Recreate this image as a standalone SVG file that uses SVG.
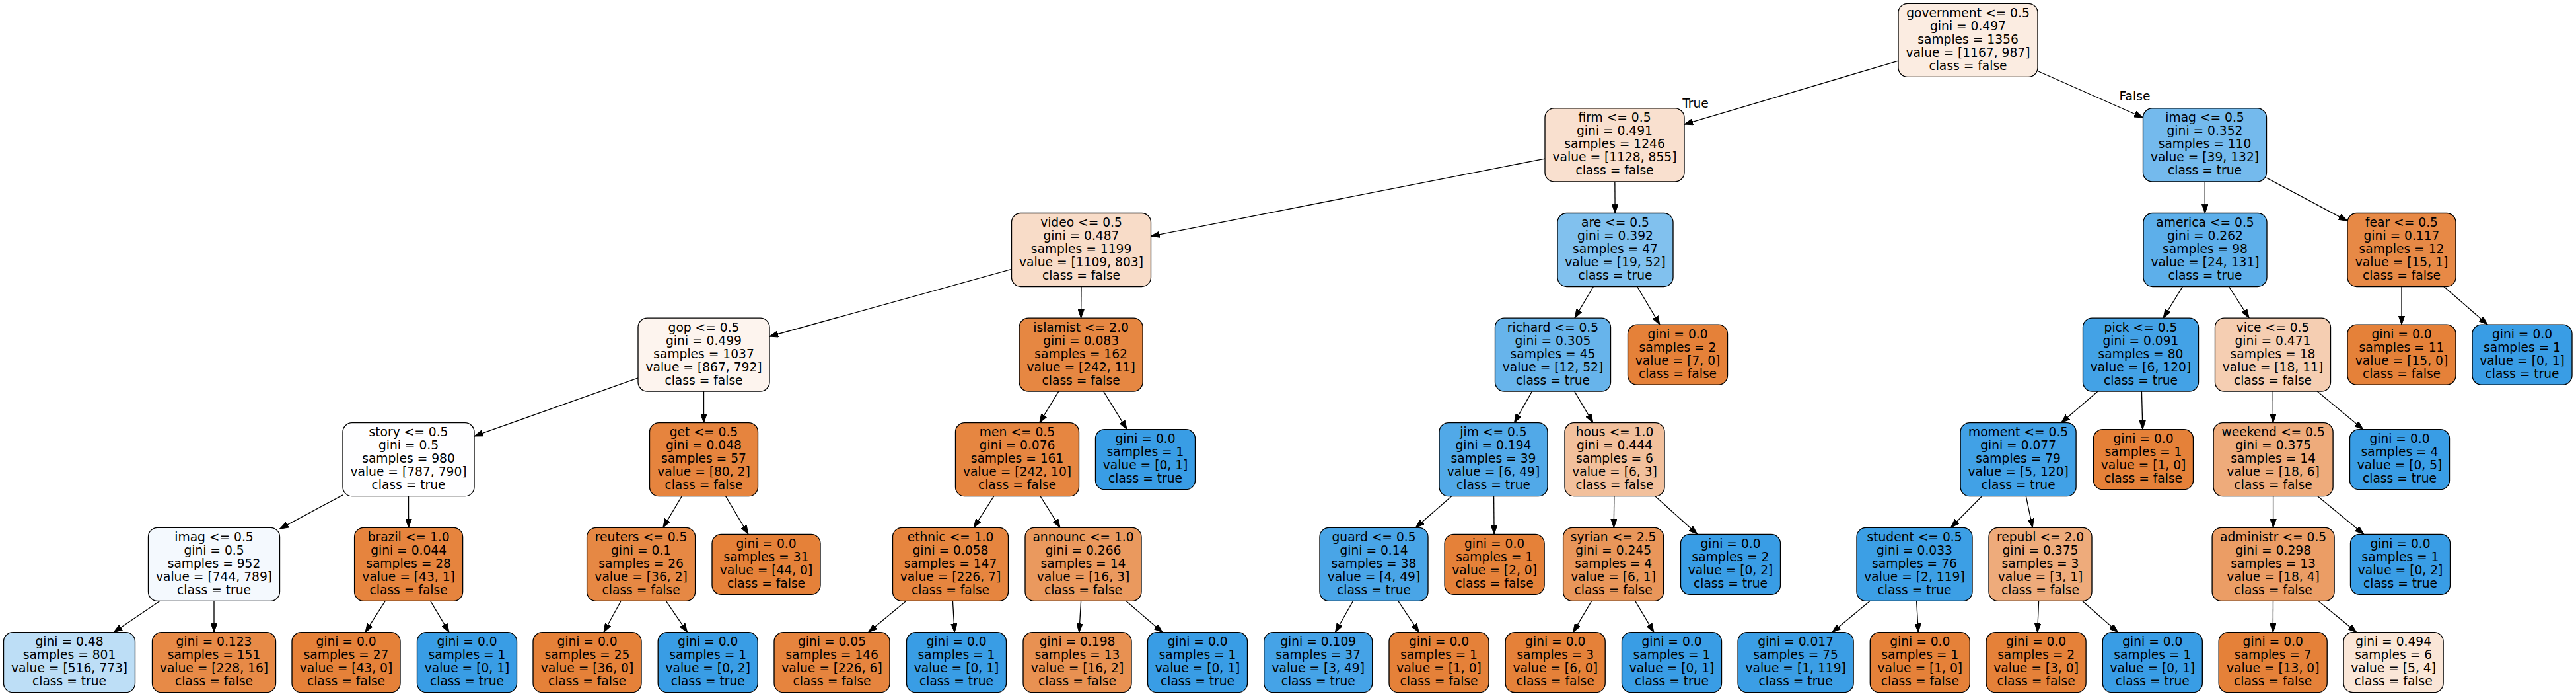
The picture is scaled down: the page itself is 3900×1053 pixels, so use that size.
<svg xmlns="http://www.w3.org/2000/svg" width="3900" height="1053" viewBox="0 0 3900 1053">
<defs>
<style>
.node rect{stroke:#000;stroke-width:1.33}
text{font-family:"DejaVu Sans","Liberation Sans",sans-serif;font-size:18.67px;text-anchor:middle;fill:#000}
#edges line{stroke:#000;stroke-width:1.33;marker-end:url(#arr)}
.o{fill:#e58139}.b{fill:#399de5}
</style>
<marker id="arr" markerUnits="userSpaceOnUse" viewBox="0 -5 14 10" refX="13.33" refY="0" markerWidth="14" markerHeight="10" orient="auto">
<path d="M0,-4.67 L13.33,0 L0,4.67 z" fill="#000" stroke="#000" stroke-width="1"/>
</marker>
</defs>
<rect width="3900" height="1053" fill="#fff"/>
<g id="edges">
<line x1="2874" y1="92.1" x2="2550" y2="188.1"/>
<line x1="3085" y1="107.5" x2="3244.5" y2="178"/>
<line x1="2339" y1="240.1" x2="1742.5" y2="357.3"/>
<line x1="2444.85" y1="274.9" x2="2445.15" y2="322.5"/>
<line x1="3338.2" y1="274.9" x2="3338.3" y2="322.5"/>
<line x1="3431.5" y1="269.2" x2="3554" y2="334.4"/>
<line x1="1531.5" y1="407.3" x2="1165" y2="509"/>
<line x1="1637" y1="433.5" x2="1636.6" y2="481.1"/>
<line x1="2412.4" y1="433.5" x2="2384.1" y2="481.1"/>
<line x1="2478.6" y1="433.5" x2="2512.9" y2="491.1"/>
<line x1="3304.4" y1="433.5" x2="3275.1" y2="481.1"/>
<line x1="3374.4" y1="433.5" x2="3405.1" y2="481.1"/>
<line x1="3636" y1="433.5" x2="3636" y2="491.1"/>
<line x1="3699.9" y1="433.5" x2="3766.1" y2="491.1"/>
<line x1="966" y1="571.9" x2="718" y2="659.9"/>
<line x1="1065.5" y1="592.1" x2="1065.5" y2="639.7"/>
<line x1="1602.8" y1="592.1" x2="1573.8" y2="639.7"/>
<line x1="1670.7" y1="592.1" x2="1706.1" y2="649.7"/>
<line x1="2319.5" y1="592.1" x2="2292.5" y2="639.7"/>
<line x1="2383.7" y1="592.1" x2="2411.8" y2="639.7"/>
<line x1="3176.1" y1="592.1" x2="3120.5" y2="639.7"/>
<line x1="3242.4" y1="592.1" x2="3243.9" y2="649.7"/>
<line x1="3441.2" y1="592.1" x2="3441.4" y2="639.7"/>
<line x1="3508.2" y1="592.1" x2="3577.9" y2="649.7"/>
<line x1="519" y1="748.8" x2="423.5" y2="800.2"/>
<line x1="618.5" y1="750.7" x2="618.6" y2="798.3"/>
<line x1="1032.3" y1="750.7" x2="1003.8" y2="798.3"/>
<line x1="1098.6" y1="750.7" x2="1132.9" y2="808.3"/>
<line x1="1504.7" y1="750.7" x2="1474.3" y2="798.3"/>
<line x1="1575" y1="750.7" x2="1605" y2="798.3"/>
<line x1="2197.7" y1="750.7" x2="2143.3" y2="798.3"/>
<line x1="2261.6" y1="750.7" x2="2262.1" y2="808.3"/>
<line x1="2443.8" y1="750.7" x2="2443.3" y2="798.3"/>
<line x1="2505.9" y1="750.7" x2="2569.7" y2="808.3"/>
<line x1="3000.6" y1="750.7" x2="2953.5" y2="798.3"/>
<line x1="3067.3" y1="750.7" x2="3077.3" y2="798.3"/>
<line x1="3441.6" y1="750.7" x2="3441.6" y2="798.3"/>
<line x1="3508.9" y1="750.7" x2="3578.8" y2="808.3"/>
<line x1="242.1" y1="909.3" x2="172.1" y2="956.7"/>
<line x1="324" y1="909.3" x2="324" y2="956.7"/>
<line x1="583.2" y1="909.3" x2="553" y2="956.7"/>
<line x1="651.7" y1="909.3" x2="679.9" y2="956.7"/>
<line x1="940.1" y1="909.3" x2="914" y2="956.7"/>
<line x1="1008.4" y1="909.3" x2="1040.7" y2="956.7"/>
<line x1="1371.9" y1="909.3" x2="1314.5" y2="956.7"/>
<line x1="1442.4" y1="909.3" x2="1445.2" y2="956.7"/>
<line x1="1636.6" y1="909.3" x2="1633.8" y2="956.7"/>
<line x1="1704.7" y1="909.3" x2="1760" y2="956.7"/>
<line x1="2048.5" y1="909.3" x2="2021.5" y2="956.7"/>
<line x1="2116.8" y1="909.3" x2="2148.3" y2="956.7"/>
<line x1="2409.7" y1="909.3" x2="2381.6" y2="956.7"/>
<line x1="2475.7" y1="909.3" x2="2503.9" y2="956.7"/>
<line x1="2831.2" y1="909.3" x2="2773.8" y2="956.7"/>
<line x1="2901.6" y1="909.3" x2="2904.3" y2="956.7"/>
<line x1="3086.6" y1="909.3" x2="3084.6" y2="956.7"/>
<line x1="3152.5" y1="909.3" x2="3206.7" y2="956.7"/>
<line x1="3441.5" y1="909.3" x2="3441.3" y2="956.7"/>
<line x1="3509.7" y1="909.3" x2="3567.8" y2="956.7"/>
<text x="2567" y="163.3">True</text>
<text x="3232" y="151.7">False</text>
</g>

<g id="n0" class="node" transform="translate(2979.5,60.8)"><rect x="-105.5" y="-55.5" width="211" height="111" rx="14" fill="#fbece1"/><text y="-35"><tspan x="0">government &lt;= 0.5</tspan><tspan x="0" dy="20">gini = 0.497</tspan><tspan x="0" dy="20">samples = 1356</tspan><tspan x="0" dy="20">value = [1167, 987]</tspan><tspan x="0" dy="20">class = false</tspan></text></g>

<g id="n1" class="node" transform="translate(2444.5,219.4)"><rect x="-105.5" y="-55.5" width="211" height="111" rx="14" fill="#f9e0cf"/><text y="-35"><tspan x="0">firm &lt;= 0.5</tspan><tspan x="0" dy="20">gini = 0.491</tspan><tspan x="0" dy="20">samples = 1246</tspan><tspan x="0" dy="20">value = [1128, 855]</tspan><tspan x="0" dy="20">class = false</tspan></text></g>
<g id="n2" class="node" transform="translate(3338,219.4)"><rect x="-93.5" y="-55.5" width="187" height="111" rx="14" fill="#74baed"/><text y="-35"><tspan x="0">imag &lt;= 0.5</tspan><tspan x="0" dy="20">gini = 0.352</tspan><tspan x="0" dy="20">samples = 110</tspan><tspan x="0" dy="20">value = [39, 132]</tspan><tspan x="0" dy="20">class = true</tspan></text></g>

<g id="n3" class="node" transform="translate(1637,378)"><rect x="-105.5" y="-55.5" width="211" height="111" rx="14" fill="#f8dcc8"/><text y="-35"><tspan x="0">video &lt;= 0.5</tspan><tspan x="0" dy="20">gini = 0.487</tspan><tspan x="0" dy="20">samples = 1199</tspan><tspan x="0" dy="20">value = [1109, 803]</tspan><tspan x="0" dy="20">class = false</tspan></text></g>
<g id="n4" class="node" transform="translate(2445.5,378)"><rect x="-87.5" y="-55.5" width="175" height="111" rx="14" fill="#81c1ee"/><text y="-35"><tspan x="0">are &lt;= 0.5</tspan><tspan x="0" dy="20">gini = 0.392</tspan><tspan x="0" dy="20">samples = 47</tspan><tspan x="0" dy="20">value = [19, 52]</tspan><tspan x="0" dy="20">class = true</tspan></text></g>
<g id="n5" class="node" transform="translate(3338.5,378)"><rect x="-93.5" y="-55.5" width="187" height="111" rx="14" fill="#5dafea"/><text y="-35"><tspan x="0">america &lt;= 0.5</tspan><tspan x="0" dy="20">gini = 0.262</tspan><tspan x="0" dy="20">samples = 98</tspan><tspan x="0" dy="20">value = [24, 131]</tspan><tspan x="0" dy="20">class = true</tspan></text></g>
<g id="n6" class="node" transform="translate(3636,378)"><rect x="-82" y="-55.5" width="164" height="111" rx="14" fill="#e78946"/><text y="-35"><tspan x="0">fear &lt;= 0.5</tspan><tspan x="0" dy="20">gini = 0.117</tspan><tspan x="0" dy="20">samples = 12</tspan><tspan x="0" dy="20">value = [15, 1]</tspan><tspan x="0" dy="20">class = false</tspan></text></g>

<g id="n7" class="node" transform="translate(1065.5,536.6)"><rect x="-99.5" y="-55.5" width="199" height="111" rx="14" fill="#fdf4ee"/><text y="-35"><tspan x="0">gop &lt;= 0.5</tspan><tspan x="0" dy="20">gini = 0.499</tspan><tspan x="0" dy="20">samples = 1037</tspan><tspan x="0" dy="20">value = [867, 792]</tspan><tspan x="0" dy="20">class = false</tspan></text></g>
<g id="n8" class="node" transform="translate(1636.6,536.6)"><rect x="-93.5" y="-55.5" width="187" height="111" rx="14" fill="#e68742"/><text y="-35"><tspan x="0">islamist &lt;= 2.0</tspan><tspan x="0" dy="20">gini = 0.083</tspan><tspan x="0" dy="20">samples = 162</tspan><tspan x="0" dy="20">value = [242, 11]</tspan><tspan x="0" dy="20">class = false</tspan></text></g>
<g id="n9" class="node" transform="translate(2351,536.6)"><rect x="-87.5" y="-55.5" width="175" height="111" rx="14" fill="#67b4eb"/><text y="-35"><tspan x="0">richard &lt;= 0.5</tspan><tspan x="0" dy="20">gini = 0.305</tspan><tspan x="0" dy="20">samples = 45</tspan><tspan x="0" dy="20">value = [12, 52]</tspan><tspan x="0" dy="20">class = true</tspan></text></g>
<g id="n10" class="node" transform="translate(2540,536.6)"><rect class="o" x="-75.5" y="-45.5" width="151" height="91" rx="14"/><text y="-25"><tspan x="0">gini = 0.0</tspan><tspan x="0" dy="20">samples = 2</tspan><tspan x="0" dy="20">value = [7, 0]</tspan><tspan x="0" dy="20">class = false</tspan></text></g>
<g id="n11" class="node" transform="translate(3241,536.6)"><rect x="-87.5" y="-55.5" width="175" height="111" rx="14" fill="#43a2e6"/><text y="-35"><tspan x="0">pick &lt;= 0.5</tspan><tspan x="0" dy="20">gini = 0.091</tspan><tspan x="0" dy="20">samples = 80</tspan><tspan x="0" dy="20">value = [6, 120]</tspan><tspan x="0" dy="20">class = true</tspan></text></g>
<g id="n12" class="node" transform="translate(3441,536.6)"><rect x="-87.5" y="-55.5" width="175" height="111" rx="14" fill="#f5ceb2"/><text y="-35"><tspan x="0">vice &lt;= 0.5</tspan><tspan x="0" dy="20">gini = 0.471</tspan><tspan x="0" dy="20">samples = 18</tspan><tspan x="0" dy="20">value = [18, 11]</tspan><tspan x="0" dy="20">class = false</tspan></text></g>
<g id="n13" class="node" transform="translate(3636,536.6)"><rect class="o" x="-82" y="-45.5" width="164" height="91" rx="14"/><text y="-25"><tspan x="0">gini = 0.0</tspan><tspan x="0" dy="20">samples = 11</tspan><tspan x="0" dy="20">value = [15, 0]</tspan><tspan x="0" dy="20">class = false</tspan></text></g>
<g id="n14" class="node" transform="translate(3818.5,536.6)"><rect class="b" x="-75.5" y="-45.5" width="151" height="91" rx="14"/><text y="-25"><tspan x="0">gini = 0.0</tspan><tspan x="0" dy="20">samples = 1</tspan><tspan x="0" dy="20">value = [0, 1]</tspan><tspan x="0" dy="20">class = true</tspan></text></g>

<g id="n15" class="node" transform="translate(618.5,695.2)"><rect x="-99.5" y="-55.5" width="199" height="111" rx="14" fill="#fefeff"/><text y="-35"><tspan x="0">story &lt;= 0.5</tspan><tspan x="0" dy="20">gini = 0.5</tspan><tspan x="0" dy="20">samples = 980</tspan><tspan x="0" dy="20">value = [787, 790]</tspan><tspan x="0" dy="20">class = true</tspan></text></g>
<g id="n16" class="node" transform="translate(1065.5,695.2)"><rect x="-82" y="-55.5" width="164" height="111" rx="14" fill="#e6843e"/><text y="-35"><tspan x="0">get &lt;= 0.5</tspan><tspan x="0" dy="20">gini = 0.048</tspan><tspan x="0" dy="20">samples = 57</tspan><tspan x="0" dy="20">value = [80, 2]</tspan><tspan x="0" dy="20">class = false</tspan></text></g>
<g id="n17" class="node" transform="translate(1540,695.2)"><rect x="-93.5" y="-55.5" width="187" height="111" rx="14" fill="#e68641"/><text y="-35"><tspan x="0">men &lt;= 0.5</tspan><tspan x="0" dy="20">gini = 0.076</tspan><tspan x="0" dy="20">samples = 161</tspan><tspan x="0" dy="20">value = [242, 10]</tspan><tspan x="0" dy="20">class = false</tspan></text></g>
<g id="n18" class="node" transform="translate(1734,695.2)"><rect class="b" x="-75.5" y="-45.5" width="151" height="91" rx="14"/><text y="-25"><tspan x="0">gini = 0.0</tspan><tspan x="0" dy="20">samples = 1</tspan><tspan x="0" dy="20">value = [0, 1]</tspan><tspan x="0" dy="20">class = true</tspan></text></g>
<g id="n19" class="node" transform="translate(2261,695.2)"><rect x="-82" y="-55.5" width="164" height="111" rx="14" fill="#51a9e8"/><text y="-35"><tspan x="0">jim &lt;= 0.5</tspan><tspan x="0" dy="20">gini = 0.194</tspan><tspan x="0" dy="20">samples = 39</tspan><tspan x="0" dy="20">value = [6, 49]</tspan><tspan x="0" dy="20">class = true</tspan></text></g>
<g id="n20" class="node" transform="translate(2444.5,695.2)"><rect x="-75.5" y="-55.5" width="151" height="111" rx="14" fill="#f2c09c"/><text y="-35"><tspan x="0">hous &lt;= 1.0</tspan><tspan x="0" dy="20">gini = 0.444</tspan><tspan x="0" dy="20">samples = 6</tspan><tspan x="0" dy="20">value = [6, 3]</tspan><tspan x="0" dy="20">class = false</tspan></text></g>
<g id="n21" class="node" transform="translate(3055.6,695.2)"><rect x="-87.5" y="-55.5" width="175" height="111" rx="14" fill="#41a1e6"/><text y="-35"><tspan x="0">moment &lt;= 0.5</tspan><tspan x="0" dy="20">gini = 0.077</tspan><tspan x="0" dy="20">samples = 79</tspan><tspan x="0" dy="20">value = [5, 120]</tspan><tspan x="0" dy="20">class = true</tspan></text></g>
<g id="n22" class="node" transform="translate(3245,695.2)"><rect class="o" x="-75.5" y="-45.5" width="151" height="91" rx="14"/><text y="-25"><tspan x="0">gini = 0.0</tspan><tspan x="0" dy="20">samples = 1</tspan><tspan x="0" dy="20">value = [1, 0]</tspan><tspan x="0" dy="20">class = false</tspan></text></g>
<g id="n23" class="node" transform="translate(3441.6,695.2)"><rect x="-90.5" y="-55.5" width="181" height="111" rx="14" fill="#eeab7b"/><text y="-35"><tspan x="0">weekend &lt;= 0.5</tspan><tspan x="0" dy="20">gini = 0.375</tspan><tspan x="0" dy="20">samples = 14</tspan><tspan x="0" dy="20">value = [18, 6]</tspan><tspan x="0" dy="20">class = false</tspan></text></g>
<g id="n24" class="node" transform="translate(3633,695.2)"><rect class="b" x="-75.5" y="-45.5" width="151" height="91" rx="14"/><text y="-25"><tspan x="0">gini = 0.0</tspan><tspan x="0" dy="20">samples = 4</tspan><tspan x="0" dy="20">value = [0, 5]</tspan><tspan x="0" dy="20">class = true</tspan></text></g>

<g id="n25" class="node" transform="translate(324,853.8)"><rect x="-99.5" y="-55.5" width="199" height="111" rx="14" fill="#f4f9fe"/><text y="-35"><tspan x="0">imag &lt;= 0.5</tspan><tspan x="0" dy="20">gini = 0.5</tspan><tspan x="0" dy="20">samples = 952</tspan><tspan x="0" dy="20">value = [744, 789]</tspan><tspan x="0" dy="20">class = true</tspan></text></g>
<g id="n26" class="node" transform="translate(618.6,853.8)"><rect x="-82" y="-55.5" width="164" height="111" rx="14" fill="#e6843e"/><text y="-35"><tspan x="0">brazil &lt;= 1.0</tspan><tspan x="0" dy="20">gini = 0.044</tspan><tspan x="0" dy="20">samples = 28</tspan><tspan x="0" dy="20">value = [43, 1]</tspan><tspan x="0" dy="20">class = false</tspan></text></g>
<g id="n27" class="node" transform="translate(970.6,853.8)"><rect x="-82" y="-55.5" width="164" height="111" rx="14" fill="#e68844"/><text y="-35"><tspan x="0">reuters &lt;= 0.5</tspan><tspan x="0" dy="20">gini = 0.1</tspan><tspan x="0" dy="20">samples = 26</tspan><tspan x="0" dy="20">value = [36, 2]</tspan><tspan x="0" dy="20">class = false</tspan></text></g>
<g id="n28" class="node" transform="translate(1160,853.8)"><rect class="o" x="-82" y="-45.5" width="164" height="91" rx="14"/><text y="-25"><tspan x="0">gini = 0.0</tspan><tspan x="0" dy="20">samples = 31</tspan><tspan x="0" dy="20">value = [44, 0]</tspan><tspan x="0" dy="20">class = false</tspan></text></g>
<g id="n29" class="node" transform="translate(1439,853.8)"><rect x="-87.5" y="-55.5" width="175" height="111" rx="14" fill="#e6853f"/><text y="-35"><tspan x="0">ethnic &lt;= 1.0</tspan><tspan x="0" dy="20">gini = 0.058</tspan><tspan x="0" dy="20">samples = 147</tspan><tspan x="0" dy="20">value = [226, 7]</tspan><tspan x="0" dy="20">class = false</tspan></text></g>
<g id="n30" class="node" transform="translate(1640,853.8)"><rect x="-88" y="-55.5" width="176" height="111" rx="14" fill="#ea995e"/><text y="-35"><tspan x="0">announc &lt;= 1.0</tspan><tspan x="0" dy="20">gini = 0.266</tspan><tspan x="0" dy="20">samples = 14</tspan><tspan x="0" dy="20">value = [16, 3]</tspan><tspan x="0" dy="20">class = false</tspan></text></g>
<g id="n31" class="node" transform="translate(2080,853.8)"><rect x="-82" y="-55.5" width="164" height="111" rx="14" fill="#49a5e7"/><text y="-35"><tspan x="0">guard &lt;= 0.5</tspan><tspan x="0" dy="20">gini = 0.14</tspan><tspan x="0" dy="20">samples = 38</tspan><tspan x="0" dy="20">value = [4, 49]</tspan><tspan x="0" dy="20">class = true</tspan></text></g>
<g id="n32" class="node" transform="translate(2262.6,853.8)"><rect class="o" x="-75.5" y="-45.5" width="151" height="91" rx="14"/><text y="-25"><tspan x="0">gini = 0.0</tspan><tspan x="0" dy="20">samples = 1</tspan><tspan x="0" dy="20">value = [2, 0]</tspan><tspan x="0" dy="20">class = false</tspan></text></g>
<g id="n33" class="node" transform="translate(2442.6,853.8)"><rect x="-76" y="-55.5" width="152" height="111" rx="14" fill="#e9965a"/><text y="-35"><tspan x="0">syrian &lt;= 2.5</tspan><tspan x="0" dy="20">gini = 0.245</tspan><tspan x="0" dy="20">samples = 4</tspan><tspan x="0" dy="20">value = [6, 1]</tspan><tspan x="0" dy="20">class = false</tspan></text></g>
<g id="n34" class="node" transform="translate(2620,853.8)"><rect class="b" x="-75.5" y="-45.5" width="151" height="91" rx="14"/><text y="-25"><tspan x="0">gini = 0.0</tspan><tspan x="0" dy="20">samples = 2</tspan><tspan x="0" dy="20">value = [0, 2]</tspan><tspan x="0" dy="20">class = true</tspan></text></g>
<g id="n35" class="node" transform="translate(2898.5,853.8)"><rect x="-87.5" y="-55.5" width="175" height="111" rx="14" fill="#3c9fe5"/><text y="-35"><tspan x="0">student &lt;= 0.5</tspan><tspan x="0" dy="20">gini = 0.033</tspan><tspan x="0" dy="20">samples = 76</tspan><tspan x="0" dy="20">value = [2, 119]</tspan><tspan x="0" dy="20">class = true</tspan></text></g>
<g id="n36" class="node" transform="translate(3089,853.8)"><rect x="-78" y="-55.5" width="156" height="111" rx="14" fill="#eeab7b"/><text y="-35"><tspan x="0">republ &lt;= 2.0</tspan><tspan x="0" dy="20">gini = 0.375</tspan><tspan x="0" dy="20">samples = 3</tspan><tspan x="0" dy="20">value = [3, 1]</tspan><tspan x="0" dy="20">class = false</tspan></text></g>
<g id="n37" class="node" transform="translate(3441.6,853.8)"><rect x="-92.5" y="-55.5" width="185" height="111" rx="14" fill="#eb9d65"/><text y="-35"><tspan x="0">administr &lt;= 0.5</tspan><tspan x="0" dy="20">gini = 0.298</tspan><tspan x="0" dy="20">samples = 13</tspan><tspan x="0" dy="20">value = [18, 4]</tspan><tspan x="0" dy="20">class = false</tspan></text></g>
<g id="n38" class="node" transform="translate(3634,853.8)"><rect class="b" x="-75.5" y="-45.5" width="151" height="91" rx="14"/><text y="-25"><tspan x="0">gini = 0.0</tspan><tspan x="0" dy="20">samples = 1</tspan><tspan x="0" dy="20">value = [0, 2]</tspan><tspan x="0" dy="20">class = true</tspan></text></g>

<g id="n39" class="node" transform="translate(105,1002.2)"><rect x="-99.5" y="-45.5" width="199" height="91" rx="14" fill="#bddef6"/><text y="-25"><tspan x="0">gini = 0.48</tspan><tspan x="0" dy="20">samples = 801</tspan><tspan x="0" dy="20">value = [516, 773]</tspan><tspan x="0" dy="20">class = true</tspan></text></g>
<g id="n40" class="node" transform="translate(324,1002.2)"><rect x="-93.5" y="-45.5" width="187" height="91" rx="14" fill="#e78a47"/><text y="-25"><tspan x="0">gini = 0.123</tspan><tspan x="0" dy="20">samples = 151</tspan><tspan x="0" dy="20">value = [228, 16]</tspan><tspan x="0" dy="20">class = false</tspan></text></g>
<g id="n41" class="node" transform="translate(524,1002.2)"><rect class="o" x="-82" y="-45.5" width="164" height="91" rx="14"/><text y="-25"><tspan x="0">gini = 0.0</tspan><tspan x="0" dy="20">samples = 27</tspan><tspan x="0" dy="20">value = [43, 0]</tspan><tspan x="0" dy="20">class = false</tspan></text></g>
<g id="n42" class="node" transform="translate(707,1002.2)"><rect class="b" x="-75.5" y="-45.5" width="151" height="91" rx="14"/><text y="-25"><tspan x="0">gini = 0.0</tspan><tspan x="0" dy="20">samples = 1</tspan><tspan x="0" dy="20">value = [0, 1]</tspan><tspan x="0" dy="20">class = true</tspan></text></g>
<g id="n43" class="node" transform="translate(889,1002.2)"><rect class="o" x="-82" y="-45.5" width="164" height="91" rx="14"/><text y="-25"><tspan x="0">gini = 0.0</tspan><tspan x="0" dy="20">samples = 25</tspan><tspan x="0" dy="20">value = [36, 0]</tspan><tspan x="0" dy="20">class = false</tspan></text></g>
<g id="n44" class="node" transform="translate(1071.7,1002.2)"><rect class="b" x="-75.5" y="-45.5" width="151" height="91" rx="14"/><text y="-25"><tspan x="0">gini = 0.0</tspan><tspan x="0" dy="20">samples = 1</tspan><tspan x="0" dy="20">value = [0, 2]</tspan><tspan x="0" dy="20">class = true</tspan></text></g>
<g id="n45" class="node" transform="translate(1259.5,1002.2)"><rect x="-87.5" y="-45.5" width="175" height="91" rx="14" fill="#e6843e"/><text y="-25"><tspan x="0">gini = 0.05</tspan><tspan x="0" dy="20">samples = 146</tspan><tspan x="0" dy="20">value = [226, 6]</tspan><tspan x="0" dy="20">class = false</tspan></text></g>
<g id="n46" class="node" transform="translate(1448,1002.2)"><rect class="b" x="-75.5" y="-45.5" width="151" height="91" rx="14"/><text y="-25"><tspan x="0">gini = 0.0</tspan><tspan x="0" dy="20">samples = 1</tspan><tspan x="0" dy="20">value = [0, 1]</tspan><tspan x="0" dy="20">class = true</tspan></text></g>
<g id="n47" class="node" transform="translate(1631,1002.2)"><rect x="-82" y="-45.5" width="164" height="91" rx="14" fill="#e89152"/><text y="-25"><tspan x="0">gini = 0.198</tspan><tspan x="0" dy="20">samples = 13</tspan><tspan x="0" dy="20">value = [16, 2]</tspan><tspan x="0" dy="20">class = false</tspan></text></g>
<g id="n48" class="node" transform="translate(1813,1002.2)"><rect class="b" x="-75.5" y="-45.5" width="151" height="91" rx="14"/><text y="-25"><tspan x="0">gini = 0.0</tspan><tspan x="0" dy="20">samples = 1</tspan><tspan x="0" dy="20">value = [0, 1]</tspan><tspan x="0" dy="20">class = true</tspan></text></g>
<g id="n49" class="node" transform="translate(1995.7,1002.2)"><rect x="-82" y="-45.5" width="164" height="91" rx="14" fill="#45a3e7"/><text y="-25"><tspan x="0">gini = 0.109</tspan><tspan x="0" dy="20">samples = 37</tspan><tspan x="0" dy="20">value = [3, 49]</tspan><tspan x="0" dy="20">class = true</tspan></text></g>
<g id="n50" class="node" transform="translate(2178.5,1002.2)"><rect class="o" x="-75.5" y="-45.5" width="151" height="91" rx="14"/><text y="-25"><tspan x="0">gini = 0.0</tspan><tspan x="0" dy="20">samples = 1</tspan><tspan x="0" dy="20">value = [1, 0]</tspan><tspan x="0" dy="20">class = false</tspan></text></g>
<g id="n51" class="node" transform="translate(2354.7,1002.2)"><rect class="o" x="-75.5" y="-45.5" width="151" height="91" rx="14"/><text y="-25"><tspan x="0">gini = 0.0</tspan><tspan x="0" dy="20">samples = 3</tspan><tspan x="0" dy="20">value = [6, 0]</tspan><tspan x="0" dy="20">class = false</tspan></text></g>
<g id="n52" class="node" transform="translate(2531,1002.2)"><rect class="b" x="-75.5" y="-45.5" width="151" height="91" rx="14"/><text y="-25"><tspan x="0">gini = 0.0</tspan><tspan x="0" dy="20">samples = 1</tspan><tspan x="0" dy="20">value = [0, 1]</tspan><tspan x="0" dy="20">class = true</tspan></text></g>
<g id="n53" class="node" transform="translate(2718.6,1002.2)"><rect x="-87.5" y="-45.5" width="175" height="91" rx="14" fill="#3b9ee5"/><text y="-25"><tspan x="0">gini = 0.017</tspan><tspan x="0" dy="20">samples = 75</tspan><tspan x="0" dy="20">value = [1, 119]</tspan><tspan x="0" dy="20">class = true</tspan></text></g>
<g id="n54" class="node" transform="translate(2906.8,1002.2)"><rect class="o" x="-75.5" y="-45.5" width="151" height="91" rx="14"/><text y="-25"><tspan x="0">gini = 0.0</tspan><tspan x="0" dy="20">samples = 1</tspan><tspan x="0" dy="20">value = [1, 0]</tspan><tspan x="0" dy="20">class = false</tspan></text></g>
<g id="n55" class="node" transform="translate(3082.6,1002.2)"><rect class="o" x="-75.5" y="-45.5" width="151" height="91" rx="14"/><text y="-25"><tspan x="0">gini = 0.0</tspan><tspan x="0" dy="20">samples = 2</tspan><tspan x="0" dy="20">value = [3, 0]</tspan><tspan x="0" dy="20">class = false</tspan></text></g>
<g id="n56" class="node" transform="translate(3258.8,1002.2)"><rect class="b" x="-75.5" y="-45.5" width="151" height="91" rx="14"/><text y="-25"><tspan x="0">gini = 0.0</tspan><tspan x="0" dy="20">samples = 1</tspan><tspan x="0" dy="20">value = [0, 1]</tspan><tspan x="0" dy="20">class = true</tspan></text></g>
<g id="n57" class="node" transform="translate(3441.2,1002.2)"><rect class="o" x="-82" y="-45.5" width="164" height="91" rx="14"/><text y="-25"><tspan x="0">gini = 0.0</tspan><tspan x="0" dy="20">samples = 7</tspan><tspan x="0" dy="20">value = [13, 0]</tspan><tspan x="0" dy="20">class = false</tspan></text></g>
<g id="n58" class="node" transform="translate(3623.6,1002.2)"><rect x="-75.5" y="-45.5" width="151" height="91" rx="14" fill="#fae6d7"/><text y="-25"><tspan x="0">gini = 0.494</tspan><tspan x="0" dy="20">samples = 6</tspan><tspan x="0" dy="20">value = [5, 4]</tspan><tspan x="0" dy="20">class = false</tspan></text></g>
</svg>
